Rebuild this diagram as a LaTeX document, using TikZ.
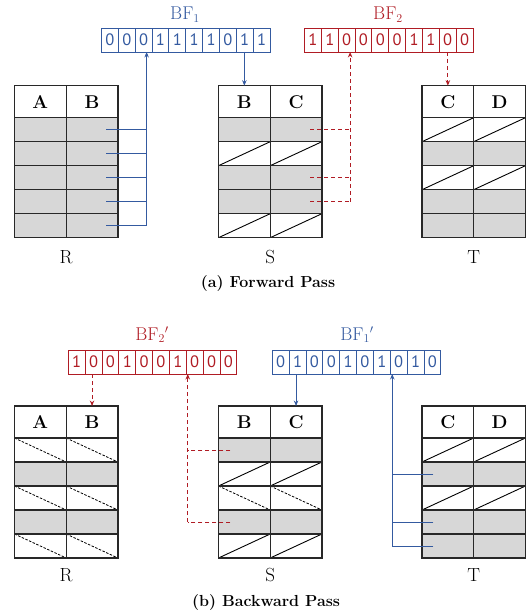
\documentclass[tikz,border=0pt]{standalone}
\usepackage{fontspec}
\newfontfamily\bitfont{PT Sans}
\usetikzlibrary{arrows.meta}
\definecolor{bfblue}{RGB}{52,90,160}
\definecolor{bfred}{RGB}{176,28,36}
\definecolor{rowgray}{RGB}{215,215,215}
\definecolor{gridline}{RGB}{40,40,40}

% relation table: name, left x, top y, two headers, row kinds (g = kept, s = removed, d = removed later)
\newcommand\relation[6]{%
  \node[headbox] (#1-0-1) at (#2,#3) {#4};
  \node[headbox] (#1-0-2) at ({#2+51.7},#3) {#5};
  \foreach \kind [count=\r] in {#6} {
    \foreach \c in {1,2} {
      \node[cellbox,row\kind] (#1-\r-\c) at ({#2+(\c-1)*51.7},{#3+32+(\r-1)*24}) {};
    }
  }
}
% bloom filter: name, left x, top y, colour, bits
\newcommand\bloomrow[5]{%
  \foreach \b [count=\i from 0] in {#5} {
    \node[bitbox,draw=#4,text=#4] (#1-\i) at ({#2+\i*16.85},#3) {\b};
  }
}

\begin{document}
\begin{tikzpicture}[x=1pt,y=-1pt,
  cellbox/.style={draw=gridline,line width=1.2pt,minimum width=51.7pt,minimum height=24pt,
    inner sep=0pt,outer sep=0pt,anchor=north west},
  headbox/.style={cellbox,fill=white,minimum height=32pt,font=\bfseries\fontsize{18.5}{18.5}\selectfont},
  rowg/.style={fill=rowgray},
  rows/.style={fill=white,path picture={\draw[line width=0.9pt,black]
      (path picture bounding box.south west) -- (path picture bounding box.north east);}},
  rowd/.style={fill=white,path picture={\draw[line width=0.8pt,black,dash pattern=on 2.5pt off 1.5pt]
      (path picture bounding box.north west) -- (path picture bounding box.south east);}},
  bitbox/.style={line width=0.9pt,minimum width=16.85pt,minimum height=24pt,inner sep=0pt,
    outer sep=0pt,anchor=north west,font=\bitfont\fontsize{16.5}{16.5}\selectfont},
  bflabel/.style={font=\fontsize{18.5}{18.5}\selectfont},
  rellabel/.style={font=\fontsize{19}{19}\selectfont},
  caption/.style={font=\bfseries\fontsize{16}{16}\selectfont},
  tip/.style={-{Stealth[length=5.5pt,width=4.5pt]}},
  blueline/.style={draw=bfblue,line width=1pt},
  redline/.style={draw=bfred,line width=1pt,dash pattern=on 4pt off 3pt},
]
\useasboundingbox (0,0) rectangle (531,615);

% ---------------- forward pass ----------------
\relation{Rf}{14.5}{85.7}{A}{B}{g,g,g,g,g}
\relation{Sf}{218.5}{85.7}{B}{C}{g,s,g,g,s}
\relation{Tf}{422}{85.7}{C}{D}{s,g,s,g,g}
\node[rellabel] (Rf-lab) at (66.2,257) {R};
\node[rellabel] (Sf-lab) at (270.2,257) {S};
\node[rellabel] (Tf-lab) at (473.7,257) {T};

\bloomrow{bfa}{101.5}{28}{bfblue}{0,0,0,1,1,1,1,0,1,1}
\bloomrow{bfb}{304.5}{28}{bfred}{1,1,0,0,0,0,1,1,0,0}
\node[bflabel,text=bfblue] (bfa-name) at (185,14.5) {BF$_1$};
\node[bflabel,text=bfred] (bfb-name) at (388,14.5) {BF$_2$};

% R.B builds BF1, which filters S
\coordinate (busA) at ([xshift=3pt]bfa-2.south);
\foreach \r in {1,...,5}
  \draw[blueline] ([xshift=14pt]Rf-\r-2.center) -- (busA |- Rf-\r-2.center);
\draw[blueline,tip] (busA |- Rf-5-2.center) -- (busA);
\draw[blueline,tip] (Sf-0-1.north |- bfa-8.south) -- (Sf-0-1.north);

% surviving S.C builds BF2, which filters T
\coordinate (busB) at ([xshift=3.5pt]bfb-2.south);
\foreach \r in {1,3,4}
  \draw[redline] ([xshift=14pt]Sf-\r-2.center) -- (busB |- Sf-\r-2.center);
\draw[redline,tip] (busB |- Sf-4-2.center) -- (busB);
\draw[redline,tip] (Tf-0-1.north |- bfb-8.south) -- (Tf-0-1.north);

\node[caption] (cap-a) at (268,284) {(a) Forward Pass};

% ---------------- backward pass ----------------
\relation{Rb}{14.5}{406}{A}{B}{d,g,d,g,d}
\relation{Sb}{218.5}{406}{B}{C}{g,s,d,g,s}
\relation{Tb}{422}{406}{C}{D}{s,g,s,g,g}
\node[rellabel] (Rb-lab) at (66.2,575) {R};
\node[rellabel] (Sb-lab) at (270.2,575) {S};
\node[rellabel] (Tb-lab) at (473.7,575) {T};

\bloomrow{bfc}{68.3}{350}{bfred}{1,0,0,1,0,0,1,0,0,0}
\bloomrow{bfd}{272.3}{350}{bfblue}{0,1,0,0,1,0,1,0,1,0}
\node[bflabel,text=bfred] (bfc-name) at (152,335) {BF$_2{}'$};
\node[bflabel,text=bfblue] (bfd-name) at (357,335) {BF$_1{}'$};

% reduced S.B builds BF2', which filters R
\coordinate (busC) at ([xshift=1.5pt]bfc-7.south west);
\foreach \r in {1,4}
  \draw[redline] ([xshift=-14pt]Sb-\r-1.center) -- (busC |- Sb-\r-1.center);
\draw[redline,tip] (busC |- Sb-4-1.center) -- (busC);
\draw[redline,tip] (Rb-0-2.north |- bfc-1.south) -- (Rb-0-2.north);

% reduced T.C builds BF1', which filters S
\coordinate (busD) at ([xshift=2pt]bfd-7.south west);
\foreach \r in {2,4,5}
  \draw[blueline] ([xshift=-14.5pt]Tb-\r-1.center) -- (busD |- Tb-\r-1.center);
\draw[blueline,tip] (busD |- Tb-5-1.center) -- (busD);
\draw[blueline,tip] (Sb-0-2.north |- bfd-1.south) -- (Sb-0-2.north);

\node[caption] (cap-b) at (266,602) {(b) Backward Pass};
\end{tikzpicture}
\end{document}
